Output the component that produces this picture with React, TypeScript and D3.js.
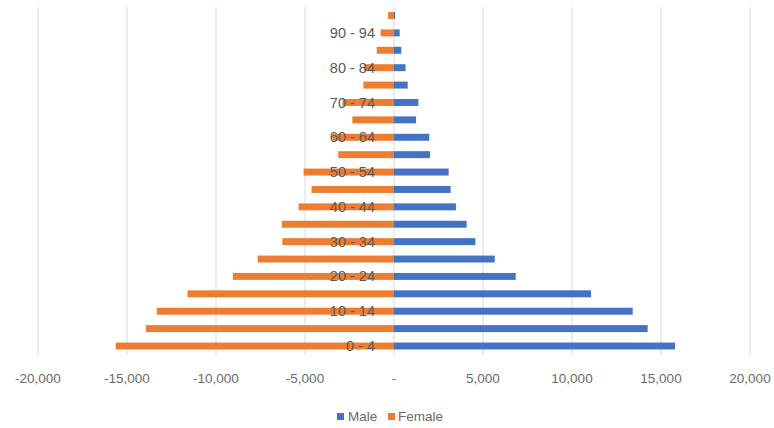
import React from "react";
import * as d3 from "d3";

const categories = ["0 - 4","5 - 9","10 - 14","15 - 19","20 - 24","25 - 29","30 - 34","35 - 39","40 - 44","45 - 49","50 - 54","55 - 59","60 - 64","65 - 69","70 - 74","75 - 79","80 - 84","85 - 89","90 - 94","95 - 99"];
const male = [15790, 14250, 13410, 11070, 6840, 5660, 4570, 4080, 3480, 3180, 3070, 2020, 1980, 1240, 1370, 770, 650, 410, 320, 60];
const female = [-15630, -13930, -13330, -11600, -9050, -7660, -6270, -6290, -5360, -4630, -5080, -3130, -3450, -2340, -2900, -1720, -1690, -970, -750, -330];
const ticks = [-20000, -15000, -10000, -5000, 0, 5000, 10000, 15000, 20000];
const seriesNames = ["Male", "Female"];

const W = 774, H = 428;
const BLUE = "#4472C4", ORANGE = "#ED7D31", TEXT = "#6b6b6b", CAT_TEXT = "#5a5a5a", GRID = "#d9d9d9";
const FONT = "'Liberation Sans', Arial, sans-serif";

export default function App() {
  const x = d3.scaleLinear().domain([-20000, 20000]).range([38, 750]);
  const y = d3.scaleBand<string>().domain(categories).range([354.7, 6.8]).paddingInner(0.6).paddingOuter(0.3);
  const fmt = (v: number) => (v === 0 ? "-" : d3.format(",")(v).replace("−", "-"));
  const bw = y.bandwidth();
  return (
    <div style={{ position: "absolute", left: 0, top: 0 }}>
      <svg width={W} height={H} style={{ display: "block", background: "#fff" }} fontFamily={FONT}>
        {ticks.map((t) => (
          <line key={"g" + t} x1={x(t)} x2={x(t)} y1={6.8} y2={354.7} stroke={GRID} strokeWidth={1} />
        ))}
        {categories.map((c, i) => (
          <g key={c}>
            <rect x={x(Math.min(0, female[i]))} y={y(c)!} width={x(0) - x(female[i])} height={bw} fill={ORANGE} />
            <rect x={x(0)} y={y(c)!} width={x(male[i]) - x(0)} height={bw} fill={BLUE} />
          </g>
        ))}
        {categories.map((c, i) =>
          i % 2 === 0 ? (
            <text key={"l" + c} x={375} y={y(c)! + bw / 2} dy="0.35em" textAnchor="end" fontSize={14.5} fill={CAT_TEXT}>
              {c}
            </text>
          ) : null
        )}
        {ticks.map((t) => (
          <text key={"t" + t} x={x(t)} y={378} dy="0.35em" textAnchor="middle" fontSize={13.5} fill={TEXT}>
            {fmt(t)}
          </text>
        ))}
        <g>
          <rect x={337} y={413} width={7} height={7} fill={BLUE} />
          <text x={348} y={416.5} dy="0.35em" fontSize={13.5} fill={TEXT}>{seriesNames[0]}</text>
          <rect x={388} y={413} width={7} height={7} fill={ORANGE} />
          <text x={398} y={416.5} dy="0.35em" fontSize={13.5} fill={TEXT}>{seriesNames[1]}</text>
        </g>
      </svg>
    </div>
  );
}
